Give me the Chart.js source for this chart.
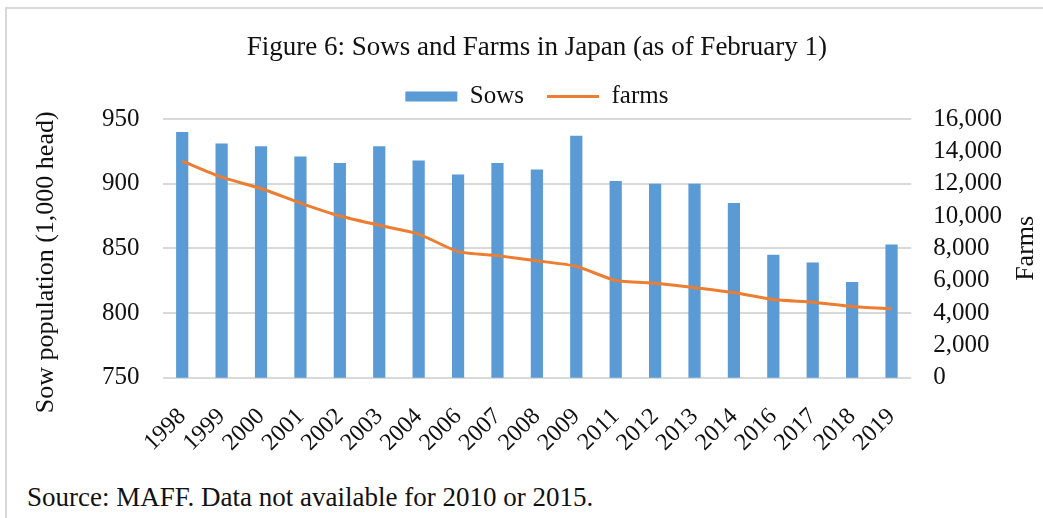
<!DOCTYPE html>
<html>
<head>
<meta charset="utf-8">
<title>Sows and Farms in Japan</title>
<script src="https://cdn.jsdelivr.net/npm/chart.js@4"></script>
<style>
  html, body { margin: 0; padding: 0; background: #fff; }
  #frame {
    position: absolute; left: 5px; top: 7px; right: 0; bottom: 0;
    border-top: 2px solid #d9d9d9; border-left: 2px solid #d9d9d9;
  }
  #wrap { position: absolute; left: 0; top: 0; width: 1036px; height: 473px; }
  #source {
    position: absolute; left: 20px; top: 473px;
    font: 27px "Liberation Serif", "Times New Roman", serif; line-height: 30px; color: #111;
  }
</style>
</head>
<body>
<div id="frame">
  <div id="wrap"><canvas id="sows_farms"></canvas></div>
  <div id="source">Source: MAFF. Data not available for 2010 or 2015.</div>
</div>
<script>
// values (no data for 2010 and 2015)
const years = ['1998', '1999', '2000', '2001', '2002', '2003', '2004', '2006', '2007', '2008',
  '2009', '2011', '2012', '2013', '2014', '2016', '2017', '2018', '2019'];
const sows = [940, 931, 929, 921, 916, 929, 918, 907, 916, 911,
  937, 902, 900, 900, 885, 845, 839, 824, 853];
const farms = [13400, 12400, 11700, 10800, 10000, 9430, 8880, 7800, 7550, 7230,
  6890, 6010, 5840, 5570, 5270, 4830, 4670, 4400, 4260];

const serif = '"Liberation Serif", "Times New Roman", serif';
const ink = '#111';
Chart.defaults.font.family = serif;
Chart.defaults.color = ink;

// both axis titles read bottom-to-top, so draw them here
const axisTitles = {
  id: 'axisTitles',
  afterDraw(chart) {
    const ctx = chart.ctx;
    const area = chart.chartArea;
    const midY = (area.top + area.bottom) / 2;
    ctx.save();
    ctx.font = '26px ' + serif;
    ctx.fillStyle = ink;
    ctx.textAlign = 'center';
    ctx.textBaseline = 'middle';

    ctx.save();
    ctx.translate(area.left - 116, midY + 14);
    ctx.rotate(-Math.PI / 2);
    ctx.fillText('Sow population (1,000 head)', 0, 0);
    ctx.restore();

    ctx.translate(area.right + 115, midY);
    ctx.rotate(-Math.PI / 2);
    ctx.fillText('Farms', 0, 0);
    ctx.restore();
  }
};

const ctx = document.getElementById('sows_farms').getContext('2d');

new Chart(ctx, {
  type: 'bar',
  data: {
    labels: years,
    datasets: [{
      label: 'Sows',
      data: sows,
      backgroundColor: '#5b9bd5',
      borderWidth: 0,
      barPercentage: 0.31,
      categoryPercentage: 1,
      yAxisID: 'y',
      pointStyle: 'rect',
      order: 1
    }, {
      type: 'line',
      label: 'farms',
      data: farms,
      borderColor: '#ed7d31',
      backgroundColor: '#ed7d31',
      borderWidth: 3,
      pointRadius: 0,
      tension: 0.2,
      yAxisID: 'y2',
      pointStyle: 'line',
      order: 0
    }]
  },
  options: {
    responsive: true,
    maintainAspectRatio: false,
    animation: false,
    layout: { padding: { left: 72, right: 19, top: 0, bottom: 0 } },
    plugins: {
      title: {
        display: true,
        fullSize: false,
        text: 'Figure 6: Sows and Farms in Japan (as of February 1)',
        font: { size: 27, weight: 'normal', lineHeight: 1 },
        color: ink,
        padding: { top: 25, bottom: 0 }
      },
      legend: {
        position: 'top',
        fullSize: false,
        labels: {
          usePointStyle: true,
          pointStyleWidth: 52,
          boxHeight: 10,
          padding: 23,
          font: { size: 25 },
          color: ink,
          sort: (a, b) => a.datasetIndex - b.datasetIndex
        }
      },
      tooltip: { enabled: false }
    },
    scales: {
      x: {
        grid: { display: false, drawTicks: false },
        border: { display: false },
        ticks: {
          maxRotation: 45,
          minRotation: 45,
          autoSkip: false,
          padding: 25,
          font: { size: 24 },
          color: ink
        }
      },
      y: {
        position: 'left',
        min: 750,
        max: 950,
        grid: { color: '#d9d9d9', lineWidth: 2, drawTicks: false },
        border: { display: false },
        ticks: { stepSize: 50, padding: 23, font: { size: 25 }, color: ink }
      },
      y2: {
        position: 'right',
        min: 0,
        max: 16000,
        grid: { display: false, drawTicks: false },
        border: { display: false },
        ticks: {
          stepSize: 2000,
          autoSkip: false,
          padding: 22,
          font: { size: 25 },
          color: ink,
          callback: v => v.toLocaleString('en-US')
        }
      }
    }
  },
  plugins: [axisTitles]
});
</script>
</body>
</html>
